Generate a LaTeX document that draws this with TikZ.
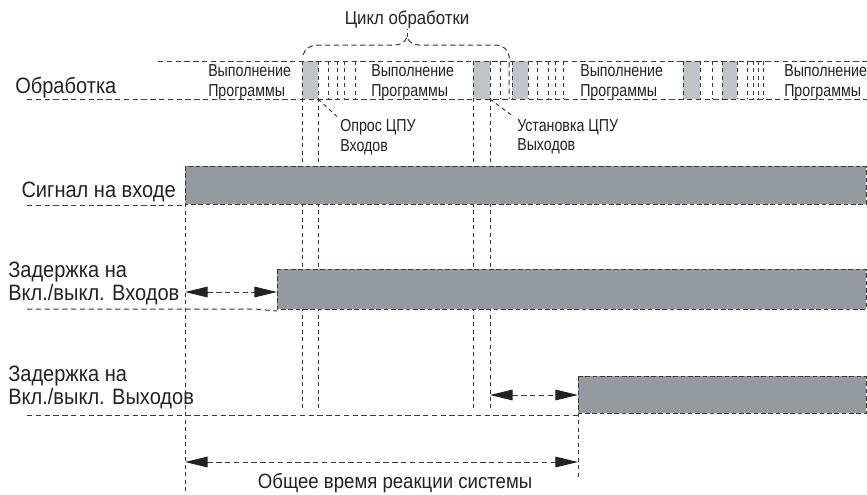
\documentclass[tikz,border=0pt]{standalone}
\usepackage{fontspec}
\setmainfont{Liberation Sans}
\newfontfamily\rowfam[FakeStretch=0.9]{Liberation Sans}
\newfontfamily\notefam[FakeStretch=0.82]{Liberation Sans}
\newcommand\rowfnt{\rowfam\fontsize{16.7pt}{17.3pt}\selectfont}
\newcommand\notefnt{\notefam\fontsize{13pt}{14.6pt}\selectfont}
\newcommand\cyclefnt{\rowfam\fontsize{14pt}{15pt}\selectfont}
\usetikzlibrary{arrows.meta}
\definecolor{ink}{HTML}{222222}
\definecolor{lineink}{HTML}{3A3A3A}
\definecolor{barcol}{HTML}{959AA0}
\definecolor{blockcol}{HTML}{C0C3C8}

\begin{document}
\begin{tikzpicture}[x=0.75pt,y=-0.75pt,
  line/.style={draw=lineink,line width=0.75pt,dash pattern=on 4pt off 2.6pt},
  tick/.style={draw=lineink,line width=0.75pt,dash pattern=on 3pt off 2.6pt},
  bar/.style={fill=barcol,draw=lineink,line width=0.75pt,dash pattern=on 3.5pt off 2pt},
  block/.style={fill=blockcol},
  span/.style={line,>={Triangle[length=17pt,width=8pt,color=ink]},<->},
  label/.style={font=\rowfnt,text=ink,inner sep=0pt,align=left},
  note/.style={font=\notefnt,text=ink,inner sep=0pt,align=left},
]
\useasboundingbox (0,0) rectangle (867,494);

% Processing band
\foreach \a/\b in {302/318,473/490,512/528,683/700,722/737}
  \fill[block] (\a,61) rectangle (\b,99);
\foreach \x in {328,337,344,355,500,512,528,537,548,555,563,683,700,712,722,737,747,753,758,763}
  \draw[tick] (\x,61) -- (\x,99);
\draw[line] (158,61) -- (867,61);
\draw[line] (27,99) -- (867,99);
\node[label,anchor=west] (proc) at (15,88) {Обработка};
\node[note,anchor=west] (run1) at (208,82.5) {Выполнение\\Программы};
\node[note,anchor=west] (run2) at (371,82.5) {Выполнение\\Программы};
\node[note,anchor=west] (run3) at (580,82.5) {Выполнение\\Программы};
\node[note,anchor=west] (run4) at (784,82.5) {Выполнение\\Программы};

% Cycle brace
\node[font=\cyclefnt,text=ink,inner sep=0pt] (cycle) at (407,20) {Цикл обработки};
\coordinate (braceTip) at (407,37);
\draw[line] (303,55) to[out=75,in=180] (318,45) -- (395,45)
  to[out=0,in=-110] (braceTip) to[out=-70,in=180] (419,45) -- (496,45)
  to[out=0,in=100] (509,56) -- (509,99);
\draw[tick] (braceTip) -- (cycle.south);

% Scan / update markers
\foreach \x in {302,318,473,490}
  \draw[tick] (\x,61) -- (\x,408);
\node[note,anchor=west] (scan) at (340,137) {Опрос ЦПУ\\Входов};
\node[note,anchor=west] (upd) at (517,137) {Установка ЦПУ\\Выходов};
\coordinate (scanCorner) at (318,99);
\coordinate (updCorner) at (490,99);
\draw[tick,shorten >=3pt] (scanCorner) -- (scan.north west);
\draw[tick,shorten >=3pt] (updCorner) -- (upd.north west);

% Input signal
\draw[bar] (185,166) rectangle (866,204);
\draw[line] (27,205) -- (185,205);
\draw[tick] (185,166) -- (185,494);
\node[label,anchor=east] (sig) at (176,192) {Сигнал на входе};

% Input delay
\draw[bar] (277,269) rectangle (866,309);
\draw[line] (27,309) -- (255,309) -- (277,311);
\node[label,anchor=west] (indly) at (8,283.5) {Задержка на\\Вкл./выкл. Входов};
\coordinate (inA) at (185,292);
\coordinate (inB) at (277,292);
\draw[span] (inA) -- (inB);

% Output delay
\draw[bar] (578,376) rectangle (866,413);
\draw[line] (27,415) -- (578,415);
\draw[tick] (578,413) -- (578,480);
\node[label,anchor=west] (outdly) at (8,387.5) {Задержка на\\Вкл./выкл. Выходов};
\coordinate (outA) at (490,395);
\coordinate (outB) at (578,395);
\draw[span] (outA) -- (outB);

% Total response time
\coordinate (totA) at (185,462);
\coordinate (totB) at (578,462);
\draw[span] (totA) -- (totB);
\node[label,font=\rowfam\fontsize{15.5pt}{17pt}\selectfont] (total) at (395,483) {Общее время реакции системы};

\end{tikzpicture}
\end{document}
